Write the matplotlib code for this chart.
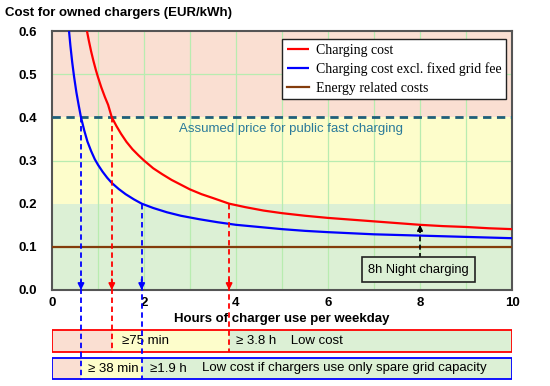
import matplotlib
matplotlib.use("Agg")
import matplotlib.pyplot as plt
from matplotlib.patches import Rectangle

# ---- data ----
red_hours = [0.76, 0.8, 0.85, 0.9, 0.95, 1.0, 1.07, 1.15, 1.22, 1.3, 1.4, 1.5, 1.62, 1.75, 1.88, 2.0,
             2.2, 2.4, 2.6, 2.8, 3.0, 3.25, 3.5, 3.85, 4.2, 4.6, 5.0, 5.5, 6.0, 6.5, 7.0, 7.5, 8.0,
             8.5, 9.0, 9.5, 10.0]
red_cost = [0.600, 0.578, 0.553, 0.531, 0.511, 0.493, 0.470, 0.447, 0.429, 0.400, 0.380, 0.362,
            0.343, 0.326, 0.312, 0.300, 0.282, 0.268, 0.255, 0.244, 0.233, 0.222, 0.213, 0.200,
            0.192, 0.184, 0.178, 0.172, 0.167, 0.163, 0.159, 0.155, 0.151, 0.148, 0.146, 0.143,
            0.141]
blue_hours = [0.37, 0.4, 0.44, 0.48, 0.53, 0.58, 0.63, 0.7, 0.77, 0.85, 0.93, 1.0, 1.1, 1.2, 1.3,
              1.45, 1.6, 1.78, 1.95, 2.2, 2.5, 2.8, 3.2, 3.6, 4.0, 4.5, 5.0, 5.5, 6.0, 7.0, 8.0,
              9.0, 10.0]
blue_cost = [0.600, 0.566, 0.527, 0.494, 0.458, 0.428, 0.400, 0.370, 0.344, 0.322, 0.303, 0.290,
             0.274, 0.260, 0.248, 0.234, 0.222, 0.210, 0.200, 0.190, 0.180, 0.172, 0.164, 0.157,
             0.151, 0.146, 0.141, 0.137, 0.134, 0.129, 0.126, 0.123, 0.120]
energy_hours = [0.0, 10.0]
energy_cost = [0.10, 0.10]
public_price = 0.40
low_cost = 0.20
night_hours = 8.0
red_thresholds = [1.3, 3.85]     # hours where red reaches 0.4 and 0.2
blue_thresholds = [0.63, 1.95]   # hours where blue reaches 0.4 and 0.2
x_ticks = [0, 2, 4, 6, 8, 10]
y_ticks = [0.0, 0.1, 0.2, 0.3, 0.4, 0.5, 0.6]
legend_labels = ["Charging cost", "Charging cost excl. fixed grid fee", "Energy related costs"]
red_box_texts = ["\u226575 min", "\u2265 3.8 h    Low cost"]
blue_box_texts = ["\u2265 38 min", "\u22651.9 h", "Low cost if chargers use only spare grid capacity"]

C_RED = "#ff0000"
C_BLUE = "#0000ff"
C_BROWN = "#843c0c"
C_TEAL = "#1f5f7a"
C_TEAL_TXT = "#2a7a9a"
BG_SALMON = "#fadfd2"
BG_YELLOW = "#fdfdcb"
BG_GREEN = "#dcf0d5"
GRID = "#b8ecb0"
SANS = ["Liberation Sans", "DejaVu Sans"]
SERIF = ["Liberation Serif", "DejaVu Serif"]

fig = plt.figure(figsize=(5.5, 3.86), dpi=100)
W, H = 550, 386
L, R, T, B = 52, 512, 31, 290
ax = fig.add_axes([L / W, 1 - B / H, (R - L) / W, (B - T) / H])
ax2 = fig.add_axes([L / W, 1 - 382 / H, (R - L) / W, (382 - 328) / H])
ax.set_zorder(3)
ax2.set_zorder(1)

ax.set_xlim(0, 10)
ax.set_ylim(0, 0.6)

# background bands
ax.axhspan(0.4, 0.6, color=BG_SALMON, zorder=0, lw=0)
ax.axhspan(0.2, 0.4, color=BG_YELLOW, zorder=0, lw=0)
ax.axhspan(0.0, 0.2, color=BG_GREEN, zorder=0, lw=0)
for xv in range(1, 10):
    ax.axvline(xv, color=GRID, lw=0.9, zorder=0.5)
for yv in [0.1, 0.3, 0.5]:
    ax.axhline(yv, color=GRID, lw=0.9, zorder=0.5)

# curves
l1, = ax.plot(red_hours, red_cost, color=C_RED, lw=1.6, zorder=4, solid_capstyle='butt')
l2, = ax.plot(blue_hours, blue_cost, color=C_BLUE, lw=1.6, zorder=4, solid_capstyle='butt')
l3, = ax.plot(energy_hours, energy_cost, color=C_BROWN, lw=1.6, zorder=4)

ax.axhline(public_price, color=C_TEAL, lw=2.0, ls=(0, (3, 2)), zorder=3)
ax.text(5.2, 0.372, "Assumed price for public fast charging", color=C_TEAL_TXT,
        ha="center", va="center", fontsize=9.5, family=SANS)

# vertical dashed arrows (extend down into the boxes)
px_per_unit = (B - T) / 0.6
def px_to_y(py):
    return -(py - B) / px_per_unit

def drop(x, ytop, color, ybot_px):
    ax.plot([x, x], [ytop, px_to_y(ybot_px)], color=color, lw=1.3, ls=(0, (3, 2)),
            clip_on=False, zorder=5)
    ax.annotate("", xy=(x, 0.0), xytext=(x, 0.025),
                arrowprops=dict(arrowstyle="-|>", color=color, lw=1.3,
                                mutation_scale=9, shrinkA=0, shrinkB=0), zorder=6)

drop(red_thresholds[0], public_price, C_RED, 352)
drop(red_thresholds[1], low_cost, C_RED, 352)
drop(blue_thresholds[0], public_price, C_BLUE, 380)
drop(blue_thresholds[1], low_cost, C_BLUE, 380)

# night charging arrow
night_red = red_cost[red_hours.index(night_hours)]
ax.plot([night_hours, night_hours], [0.074, night_red - 0.01], color="black", lw=1.2,
        ls=(0, (3, 2)), zorder=5)
ax.annotate("", xy=(night_hours, night_red), xytext=(night_hours, night_red - 0.015),
            arrowprops=dict(arrowstyle="-|>", color="black", lw=1.2, mutation_scale=8,
                            shrinkA=0, shrinkB=0), zorder=6)
ax.text(night_hours - 0.03, 0.047, "8h Night charging", ha="center", va="center",
        fontsize=9.3, family=SANS, zorder=6,
        bbox=dict(boxstyle="square,pad=0.5", fc=BG_GREEN, ec="#222222", lw=1.2))

# legend
leg = ax.legend([l1, l2, l3], legend_labels, loc="upper right", bbox_to_anchor=(0.992, 0.978),
                prop={"family": SERIF, "size": 10}, frameon=True, fancybox=False,
                edgecolor="#222222", framealpha=1, borderpad=0.3, labelspacing=0.42,
                handlelength=1.6, handletextpad=0.5, borderaxespad=0.2)
leg.get_frame().set_linewidth(1.0)
leg.set_zorder(7)

# axes style
for s in ax.spines.values():
    s.set_color("#555555")
    s.set_linewidth(1.5)
ax.set_xticks(x_ticks)
ax.set_yticks(y_ticks)
ax.set_xticklabels([str(v) for v in x_ticks], fontweight="bold", family=SANS, fontsize=9.5)
ax.set_yticklabels([f"{v:.1f}" for v in y_ticks], fontweight="bold", family=SANS, fontsize=9.5)
ax.tick_params(axis="y", length=0, pad=11)
ax.tick_params(axis="x", length=0, pad=5)
ax.set_xlabel("Hours of charger use per weekday", fontweight="bold", family=SANS,
              fontsize=9.5, labelpad=3)
fig.text(5 / W, 1 - 13 / H, "Cost for owned chargers (EUR/kWh)", fontweight="bold",
         family=SANS, fontsize=9.5, va="center", ha="left")

# bottom boxes
ax2.set_xlim(0, 10)
ax2.set_ylim(54, 0)  # pixel units from 328 px down
ax2.axis("off")
def row(top_px, bot_px, cuts, edge):
    y0 = top_px - 328
    h = bot_px - top_px
    edges = [0] + cuts + [10]
    cols = [BG_SALMON, BG_YELLOW, BG_GREEN]
    for i in range(3):
        ax2.add_patch(Rectangle((edges[i], y0), edges[i + 1] - edges[i], h, fc=cols[i],
                                ec="none", zorder=1))
    ax2.add_patch(Rectangle((0, y0), 10, h, fc="none", ec=edge, lw=1.3, zorder=3))
    return y0 + h / 2

yr = row(330, 352, red_thresholds, C_RED)
ax2.text(1.52, yr, red_box_texts[0], ha="left", va="center", fontsize=9.5, family=SANS, zorder=4)
ax2.text(4.0, yr, red_box_texts[1], ha="left", va="center", fontsize=9.5, family=SANS, zorder=4)
yb = row(358, 379, blue_thresholds, C_BLUE)
ax2.text(0.78, yb, blue_box_texts[0], ha="left", va="center", fontsize=9.5, family=SANS, zorder=4)
ax2.text(2.13, yb, blue_box_texts[1], ha="left", va="center", fontsize=9.5, family=SANS, zorder=4)
ax2.text(3.25, yb, blue_box_texts[2], ha="left", va="center", fontsize=9.5, family=SANS, zorder=4)

fig.savefig("out.png", dpi=100)
